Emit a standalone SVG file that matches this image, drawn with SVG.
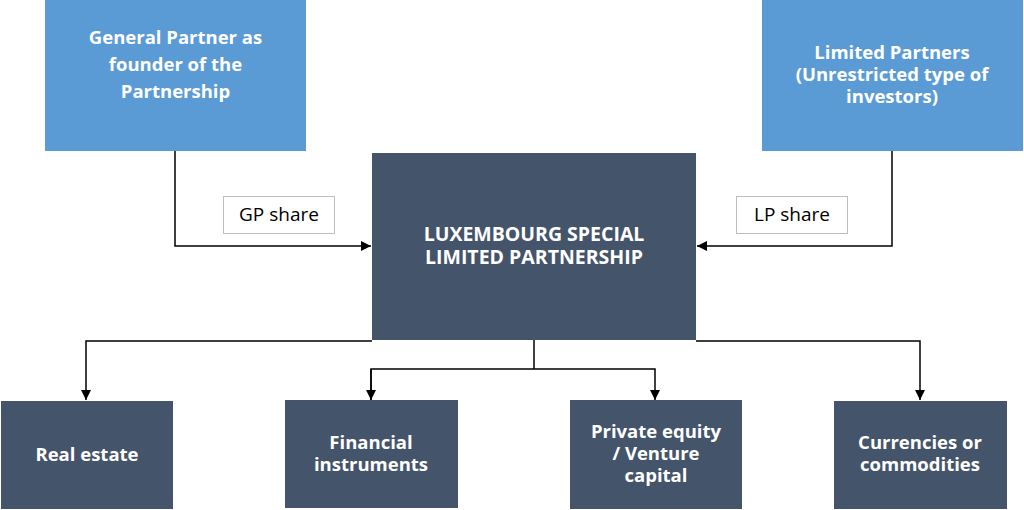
<svg xmlns="http://www.w3.org/2000/svg" width="1024" height="510" viewBox="0 0 1024 510">
<defs>
<marker id="arr" viewBox="0 0 10 10" refX="10" refY="5" markerWidth="10" markerHeight="10" markerUnits="userSpaceOnUse" orient="auto">
<path d="M0,0 L10,5 L0,10 z" fill="#000"/>
</marker>
<style>
.light{fill:#5B9BD5}
.dark{fill:#44546A}
.t{font-family:"Open Sans","Noto Sans",sans-serif;font-weight:bold;font-size:18.5px;fill:#fff;text-anchor:middle}
.big{font-size:19.5px}
.lbl{fill:#fff;stroke:#BFBFBF;stroke-width:1}
.lt{font-family:"Open Sans","Noto Sans",sans-serif;font-size:19px;fill:#000;text-anchor:middle}
.c{fill:none;stroke:#000;stroke-width:1.5}
</style>
</defs>
<rect width="1024" height="510" fill="#fff"/>
<g id="connectors">
<polyline class="c" points="175,151 175,246 371,246" marker-end="url(#arr)"/>
<polyline class="c" points="892,151 892,246 697,246" marker-end="url(#arr)"/>
<polyline class="c" points="372,341 86,341 86,400" marker-end="url(#arr)"/>
<polyline class="c" points="696,341 920,341 920,400" marker-end="url(#arr)"/>
<polyline class="c" points="534,340 534,369"/>
<polyline class="c" points="371,400 371,369 655,369 655,400" marker-end="url(#arr)"/>
<polyline class="c" points="371,369 371,400" marker-end="url(#arr)"/>
<g id="gp-share">
<rect class="lbl" x="223.5" y="196.5" width="111" height="37"/>
<text class="lt" x="279" y="221">GP share</text>
</g>
<g id="lp-share">
<rect class="lbl" x="736.5" y="196.5" width="111" height="37"/>
<text class="lt" x="792" y="221">LP share</text>
</g>
</g>
<g id="gp">
<rect class="light" x="45" y="0" width="261" height="151"/>
<text class="t" x="175.5" y="44">General Partner as</text>
<text class="t" x="175.5" y="71">founder of the</text>
<text class="t" x="175.5" y="98">Partnership</text>
</g>
<g id="lp">
<rect class="light" x="762" y="0" width="261" height="151"/>
<text class="t" x="892" y="59">Limited Partners</text>
<text class="t" x="892" y="81">(Unrestricted type of</text>
<text class="t" x="892" y="103">investors)</text>
</g>
<g id="center">
<rect class="dark" x="372" y="153" width="324" height="187"/>
<text class="t big" x="534" y="241">LUXEMBOURG SPECIAL</text>
<text class="t big" x="534" y="264">LIMITED PARTNERSHIP</text>
</g>
<g id="real-estate">
<rect class="dark" x="1" y="401" width="172" height="108"/>
<text class="t" x="87" y="461">Real estate</text>
</g>
<g id="financial">
<rect class="dark" x="285" y="400" width="173" height="108"/>
<text class="t" x="371" y="449">Financial</text>
<text class="t" x="371" y="471">instruments</text>
</g>
<g id="private-equity">
<rect class="dark" x="570" y="400" width="172" height="109"/>
<text class="t" x="656" y="438">Private equity</text>
<text class="t" x="656" y="460">/ Venture</text>
<text class="t" x="656" y="482">capital</text>
</g>
<g id="currencies">
<rect class="dark" x="834" y="401" width="173" height="108"/>
<text class="t" x="920" y="449">Currencies or</text>
<text class="t" x="920" y="471">commodities</text>
</g>
</svg>
